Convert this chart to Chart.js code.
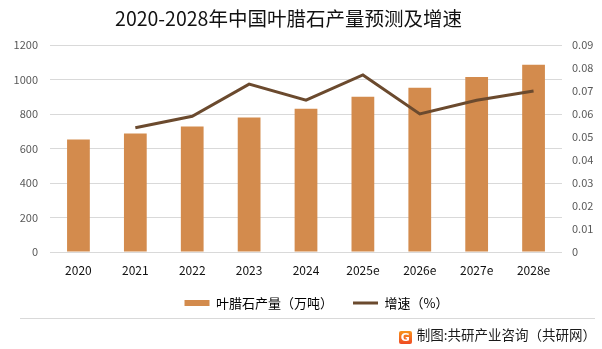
<!DOCTYPE html>
<html>
<head>
<meta charset="utf-8">
<script src="https://cdn.jsdelivr.net/npm/chart.js@4.4.1/dist/chart.umd.min.js"></script>
<style>
    body { margin: 0; background: #fff; font-family: "Noto Sans CJK SC", "Noto Sans", sans-serif; }
    #wrap { position: relative; width: 602px; height: 349px; }
    #title { position: absolute; left: 0; top: 5px; width: 577px; text-align: center; font-size: 19.5px; line-height: 25px; color: #111; white-space: nowrap; }
    #rule { position: absolute; left: 20px; top: 318px; width: 575px; border-top: 1px solid #d9d9d9; }
    #source { position: absolute; right: 6px; top: 325px; font-size: 13.5px; line-height: 18px; color: #1a1a1a; white-space: nowrap; }
    #logo { display: inline-block; width: 13px; height: 13px; margin-right: 5px; vertical-align: -1px;
        background: linear-gradient(#f7941d, #ef4a23); color: #fff; font: bold 11px/13px "DejaVu Sans", sans-serif; text-align: center; border-radius: 2px; }
</style>
</head>
<body>
<div id="wrap">
    <canvas id="chart" width="602" height="349"></canvas>
    <div id="title">2020-2028年中国叶腊石产量预测及增速</div>
    <div id="rule"></div>
    <div id="source"><span id="logo">G</span>制图:共研产业咨询（共研网）</div>
</div>
<script>
const years = ['2020', '2021', '2022', '2023', '2024', '2025e', '2026e', '2027e', '2028e'];
const output = [652, 687, 727, 779, 831, 900, 952, 1015, 1085];
const growth = [null, 0.054, 0.059, 0.073, 0.066, 0.077, 0.060, 0.066, 0.070];
const leftTicks = [0, 1200, 200];
const rightTicks = [0, 0.09, 0.01];

const barColor = '#d38b4d';
const lineColor = '#6b4a2e';
const cjk = '"Noto Sans CJK SC", "Noto Sans", sans-serif';

function fixWidth(w) {
    return function (axis) {
        axis.width = w;
    };
}

// the legend in the picture sits a bit right of centre and closer to the axis
const moveLegend = {
    id: 'moveLegend',
    afterLayout: function (chart) {
        let lg = chart.legend;
        lg.left += 15.5;
        lg.right += 15.5;
        lg.top -= 4;
        lg.bottom -= 4;
    }
};

let ctx = document.getElementById('chart').getContext('2d');
new Chart(ctx, {
    type: 'bar',
    data: {
        labels: years,
        datasets: [
            {
                label: '叶腊石产量（万吨）',
                data: output,
                backgroundColor: barColor,
                categoryPercentage: 0.8,
                barPercentage: 0.5,
                yAxisID: 'y',
                order: 2
            },
            {
                type: 'line',
                label: '增速（%）',
                data: growth,
                borderColor: lineColor,
                backgroundColor: lineColor,
                borderWidth: 3,
                pointRadius: 0,
                tension: 0,
                yAxisID: 'y1',
                order: 1
            }
        ]
    },
    plugins: [moveLegend],
    options: {
        responsive: false,
        animation: false,
        layout: { padding: { left: 0, right: 0, top: 45, bottom: 25.6 } },
        plugins: {
            legend: {
                position: 'bottom',
                labels: {
                    usePointStyle: true,
                    pointStyleWidth: 25,
                    boxHeight: 6,
                    color: '#111',
                    font: { family: cjk, size: 13 },
                    padding: 20,
                    generateLabels: function (chart) {
                        return chart.data.datasets.map(function (ds, i) {
                            let isLine = ds.type === 'line';
                            return {
                                text: ds.label,
                                fillStyle: ds.backgroundColor,
                                strokeStyle: isLine ? ds.borderColor : ds.backgroundColor,
                                lineWidth: isLine ? 3 : 0,
                                pointStyle: isLine ? 'line' : 'rect',
                                datasetIndex: i
                            };
                        });
                    }
                }
            },
            tooltip: { enabled: false }
        },
        scales: {
            x: {
                grid: { display: false },
                border: { display: false },
                ticks: { color: '#111', font: { family: cjk, size: 12 }, padding: 3, maxRotation: 0 }
            },
            y: {
                position: 'left',
                min: leftTicks[0],
                max: leftTicks[1],
                afterFit: fixWidth(50),
                grid: { color: '#d9d9d9', drawTicks: false },
                border: { display: false },
                ticks: {
                    stepSize: leftTicks[2],
                    color: '#595959',
                    font: { family: cjk, size: 11 },
                    padding: 12,
                    callback: function (value) {
                        return String(value);
                    }
                }
            },
            y1: {
                position: 'right',
                min: rightTicks[0],
                max: rightTicks[1],
                afterFit: fixWidth(40),
                grid: { display: false, drawTicks: false },
                border: { display: false },
                ticks: {
                    stepSize: rightTicks[2],
                    color: '#595959',
                    font: { family: cjk, size: 11 },
                    padding: 10,
                    callback: function (value) {
                        return value === 0 ? '0' : value.toFixed(2);
                    }
                }
            }
        }
    }
});
</script>
</body>
</html>
